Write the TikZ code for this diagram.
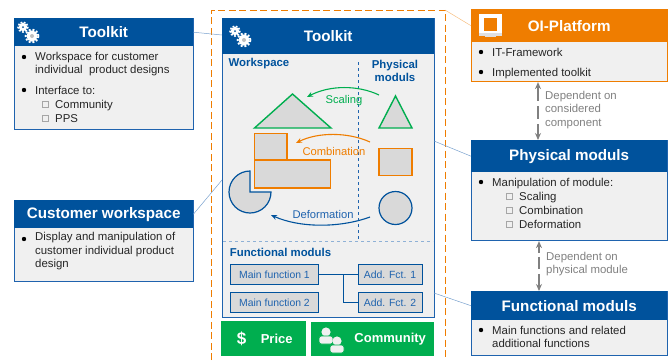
\documentclass[tikz,border=0pt]{standalone}
\usepackage{fontspec}
\setmainfont{Liberation Sans}
\usepackage{xcolor}
\usetikzlibrary{arrows.meta}
\usetikzlibrary{positioning}
\definecolor{kitblue}{HTML}{00529C}
\definecolor{kitline}{HTML}{1F63AE}
\definecolor{kitorange}{HTML}{EF7D00}
\definecolor{kitgreen}{HTML}{00AE4F}
\definecolor{kitbody}{HTML}{F0F0F0}
\definecolor{kitshape}{HTML}{D9D9D9}
\tikzset{
    head/.style={
        anchor=north west,
        fill=kitblue,
        text=white,
        font=\fontsize{15.2}{17}\selectfont\bfseries,
        inner sep=0pt
    },
    body/.style={
        draw=kitline,
        line width=1.1pt,
        fill=kitbody,
        anchor=north west,
        inner sep=0pt
    },
    txt/.style={
        anchor=west,
        inner sep=0pt,
        align=left,
        text=black!85,
        font=\fontsize{11.4}{13.7}\selectfont
    },
    oneline/.style={
        txt,
        text height=9.6pt,
        text depth=0.6pt
    },
    note/.style={
        txt,
        text=black!50
    },
    dot/.style={
        circle,
        fill=black,
        minimum size=4.4pt,
        inner sep=0pt
    },
    tick/.style={
        draw=black!35,
        fill=kitbody,
        minimum size=6pt,
        inner sep=0pt
    },
    blue label/.style={
        text=kitblue,
        inner sep=0pt,
        align=center,
        font=\fontsize{11.4}{13.7}\selectfont\bfseries
    },
    shape label/.style={
        inner sep=0pt,
        font=\fontsize{11.2}{13}\selectfont
    },
    fct/.style={
        draw=kitblue,
        line width=1pt,
        fill=kitshape,
        text=kitline,
        anchor=north west,
        inner sep=0pt,
        font=\fontsize{10.4}{12}\selectfont
    },
    green button/.style={
        fill=kitgreen,
        text=white,
        anchor=north west,
        inner sep=0pt,
        font=\fontsize{13}{15}\selectfont\bfseries
    },
    leader/.style={
        draw=kitline!60,
        line width=0.5pt
    },
    bend arrow/.style={
        line width=1.1pt,
        -{Stealth[length=6pt, width=5pt]}
    },
    both arrow/.style={
        draw=black!50,
        line width=1.2pt,
        {Stealth[length=7pt, width=6pt]}-{Stealth[length=7pt, width=6pt]}
    },
    green shape/.style={
        draw=kitgreen,
        line width=1.4pt,
        fill=kitshape
    },
    orange shape/.style={
        draw=kitorange,
        line width=1.4pt,
        fill=kitshape
    },
    blue shape/.style={
        draw=kitblue,
        line width=1.2pt,
        fill=kitshape
    },
    gears/.pic={
        \fill[white] (0,0) circle (4.2);
        \draw[white, line width=1.6pt, dash pattern=on 1.8pt off 1.6pt] (0,0) circle (5);
        \fill[kitblue] (0,0) circle (1);
        \fill[white] (9,9) circle (5.6);
        \draw[white, line width=1.8pt, dash pattern=on 2pt off 1.8pt] (9,9) circle (6.4);
        \fill[black!25] (9,9) circle (2);
    },
    person/.pic={
        \fill[black!6] (0,0) circle (4.6);
        \draw[kitgreen, line width=0.6pt, fill=black!6, rounded corners=2.5pt] (-7,4) rectangle (7,12);
    }
}

\begin{document}
\begin{tikzpicture}[x=1pt, y=-1pt]
    \useasboundingbox (0,0) rectangle (670,360);

    % dashed frame, open at the bottom
    \coordinate (frameA) at (211,360);
    \coordinate (frameB) at (211,10);
    \coordinate (frameC) at (445,10);
    \coordinate (frameD) at (445,360);

    % left boxes
    \node[body, minimum width=179pt, minimum height=111pt] (toolbody) at (14,18) {};
    \node[head, minimum width=179pt, minimum height=28pt] (toolhead) at (14,18) {Toolkit};
    \node[dot] (toolA) at (24,57) {};
    \node[txt] (tooltextA) at (35,64) {Workspace for customer\\individual\ \ product designs};
    \node[dot] (toolB) at (24,90) {};
    \node[oneline] (tooltextB) at (35,90) {Interface to:};
    \node[tick] (toolC) at (45,104) {};
    \node[oneline] (tooltextC) at (55,104) {Community};
    \node[tick] (toolD) at (45,118) {};
    \node[oneline] (tooltextD) at (55,118) {PPS};

    \node[body, minimum width=179pt, minimum height=81pt] (custbody) at (14,200) {};
    \node[head, minimum width=179pt, minimum height=28pt] (custhead) at (14,200) {Customer workspace};
    \node[dot] (custA) at (24,239) {};
    \node[txt, anchor=north west] (custtext) at (35,232) {Display and manipulation of\\customer individual product\\design};

    % frame and big toolkit box
    \draw[kitorange, line width=1pt, dash pattern=on 7pt off 3.5pt] (frameA) -- (frameB) -- (frameC) -- (frameD);
    \node[body, minimum width=212pt, minimum height=299pt] (mainbody) at (222,18) {};
    \node[head, minimum width=212pt, minimum height=36pt] (mainhead) at (222,18) {Toolkit};
    \coordinate (splitT) at (358,62);
    \coordinate (splitB) at (358,241);
    \coordinate (splitL) at (223,241);
    \coordinate (splitR) at (433,241);
    \draw[kitline, line width=0.7pt, dashed] (splitT) -- (splitB);
    \draw[kitline!50, line width=1pt, dashed] (splitL) -- (splitR);
    \node[blue label] (worklabel) at (259,64) {Workspace};
    \node[blue label] (physlabel) at (395,71) {Physical\\moduls};
    \node[blue label] (fctlabel) at (280.5,252) {Functional moduls};

    % shapes
    \draw[green shape] (254.5,128) -- (292.5,94) -- (331,128) -- cycle;
    \draw[green shape] (379,128) -- (395.5,96) -- (412,128) -- cycle;
    \draw[orange shape] (254.5,133.5) rectangle (287,160);
    \draw[orange shape] (254.5,160) rectangle (330.5,188);
    \draw[orange shape] (379,148.5) rectangle (412,175.5);
    \draw[blue shape] (250,192) -- (250,171) arc[start angle=-90, delta angle=-270, radius=21] -- cycle;
    \draw[blue shape] (395.5,208) circle (16.5);

    % curved arrows
    \coordinate (scaleA) at (379,95);
    \coordinate (scaleB) at (307,97);
    \coordinate (combA) at (370,142);
    \coordinate (combB) at (296,143);
    \coordinate (defoA) at (370,217);
    \coordinate (defoB) at (271,215);
    \draw[bend arrow, kitgreen] (scaleA) .. controls (358,85) and (330,85) .. (scaleB);
    \draw[bend arrow, kitorange] (combA) .. controls (348,132) and (318,132) .. (combB);
    \draw[bend arrow, kitblue] (defoA) .. controls (340,228) and (300,228) .. (defoB);
    \node[shape label, text=kitgreen] (scalelabel) at (344,101) {Scaling};
    \node[shape label, text=kitorange] (comblabel) at (334,151) {Combination};
    \node[shape label, text=kitline] (defolabel) at (323,214) {Deformation};

    % functional boxes
    \node[fct, minimum width=88pt, minimum height=20pt] (mainA) at (230,264) {Main function 1};
    \node[fct, minimum width=88pt, minimum height=20pt] (mainB) at (230,292) {Main function 2};
    \node[fct, minimum width=64pt, minimum height=20pt] (addA) at (357.5,264) {Add. Fct. 1};
    \node[fct, minimum width=64pt, minimum height=20pt] (addB) at (357.5,292) {Add. Fct. 2};
    \coordinate (fork) at (343.5,274);
    \draw[kitblue, line width=0.9pt] (mainA) -- (addA);
    \draw[kitblue, line width=0.9pt] (fork) |- (addB);

    % buttons
    \node[green button, minimum width=85pt, minimum height=35pt] (price) at (221,321) {\hspace{26pt}Price};
    \node[green button, minimum width=123pt, minimum height=34pt] (community) at (311,322) {\hspace{35pt}Community};
    \node[text=white, inner sep=0pt, font=\fontsize{17}{19}\selectfont\bfseries] (dollar) at (241.5,339) {\$};
    \pic at (326,332) {person};
    \pic at (337,341) {person};

    % icons
    \pic at (23,27) {gears};
    \pic at (235,31) {gears};
    
    % right boxes
    \node[body, draw=kitorange, minimum width=196pt, minimum height=72pt] (oibody) at (471,9) {};
    \node[head, fill=kitorange, minimum width=196pt, minimum height=33pt] (oihead) at (471,9) {OI-Platform};
    \node[dot] (oiA) at (481,52) {};
    \node[oneline] (oitextA) at (492,52) {IT-Framework};
    \node[dot] (oiB) at (481,72) {};
    \node[oneline] (oitextB) at (492,72) {Implemented toolkit};
    \fill[white] (479,14) rectangle (502,33);
    \fill[black!12] (479,33) rectangle (502,36);
    \fill[black!12] (485,36) rectangle (496,37);
    \fill[kitorange] (484,18) rectangle (497,31);

    \node[body, minimum width=196pt, minimum height=100pt] (physbody) at (471,140) {};
    \node[head, minimum width=196pt, minimum height=32pt] (physhead) at (471,140) {Physical moduls};
    \node[dot] (physA) at (481,182) {};
    \node[oneline] (phystextA) at (492,182) {Manipulation of module:};
    \node[tick] (physB) at (509,196) {};
    \node[oneline] (phystextB) at (519,196) {Scaling};
    \node[tick] (physC) at (509,210) {};
    \node[oneline] (phystextC) at (519,210) {Combination};
    \node[tick] (physD) at (509,224) {};
    \node[oneline] (phystextD) at (519,224) {Deformation};

    \node[body, minimum width=196pt, minimum height=64pt] (fctbody) at (471,291) {};
    \node[head, minimum width=196pt, minimum height=29pt] (fcthead) at (471,291) {Functional moduls};
    \node[dot] (fctA) at (481,330) {};
    \node[txt] (fcttext) at (492,337) {Main functions and related\\additional functions};

    % dependency arrows
    \draw[both arrow, dash pattern=on 15pt off 5pt on 13pt off 5pt on 30pt] (oibody.south -| 538,0) -- (physhead.north -| 538,0);
    \draw[both arrow, dash pattern=on 8pt off 3.5pt on 12pt off 5pt on 30pt] (physbody.south -| 539,0) -- (fcthead.north -| 539,0);
    \node[note] (dependA) at (545,110) {Dependent on\\considered\\component};
    \node[note] (dependB) at (546,264) {Dependent on\\physical module};

    % leader lines
    \coordinate (leadA) at (222,35);
    \coordinate (leadB) at (222,180);
    \coordinate (leadC) at (445,10);
    \coordinate (leadD) at (434,141);
    \coordinate (leadE) at (434,293);
    \draw[leader] (toolhead.east) -- (leadA);
    \draw[leader] (custhead.east) -- (leadB);
    \draw[leader, draw=kitorange!50] (oihead.west) -- (leadC);
    \draw[leader] (physhead.west) -- (leadD);
    \draw[leader] (fcthead.west) -- (leadE);
\end{tikzpicture}
\end{document}
